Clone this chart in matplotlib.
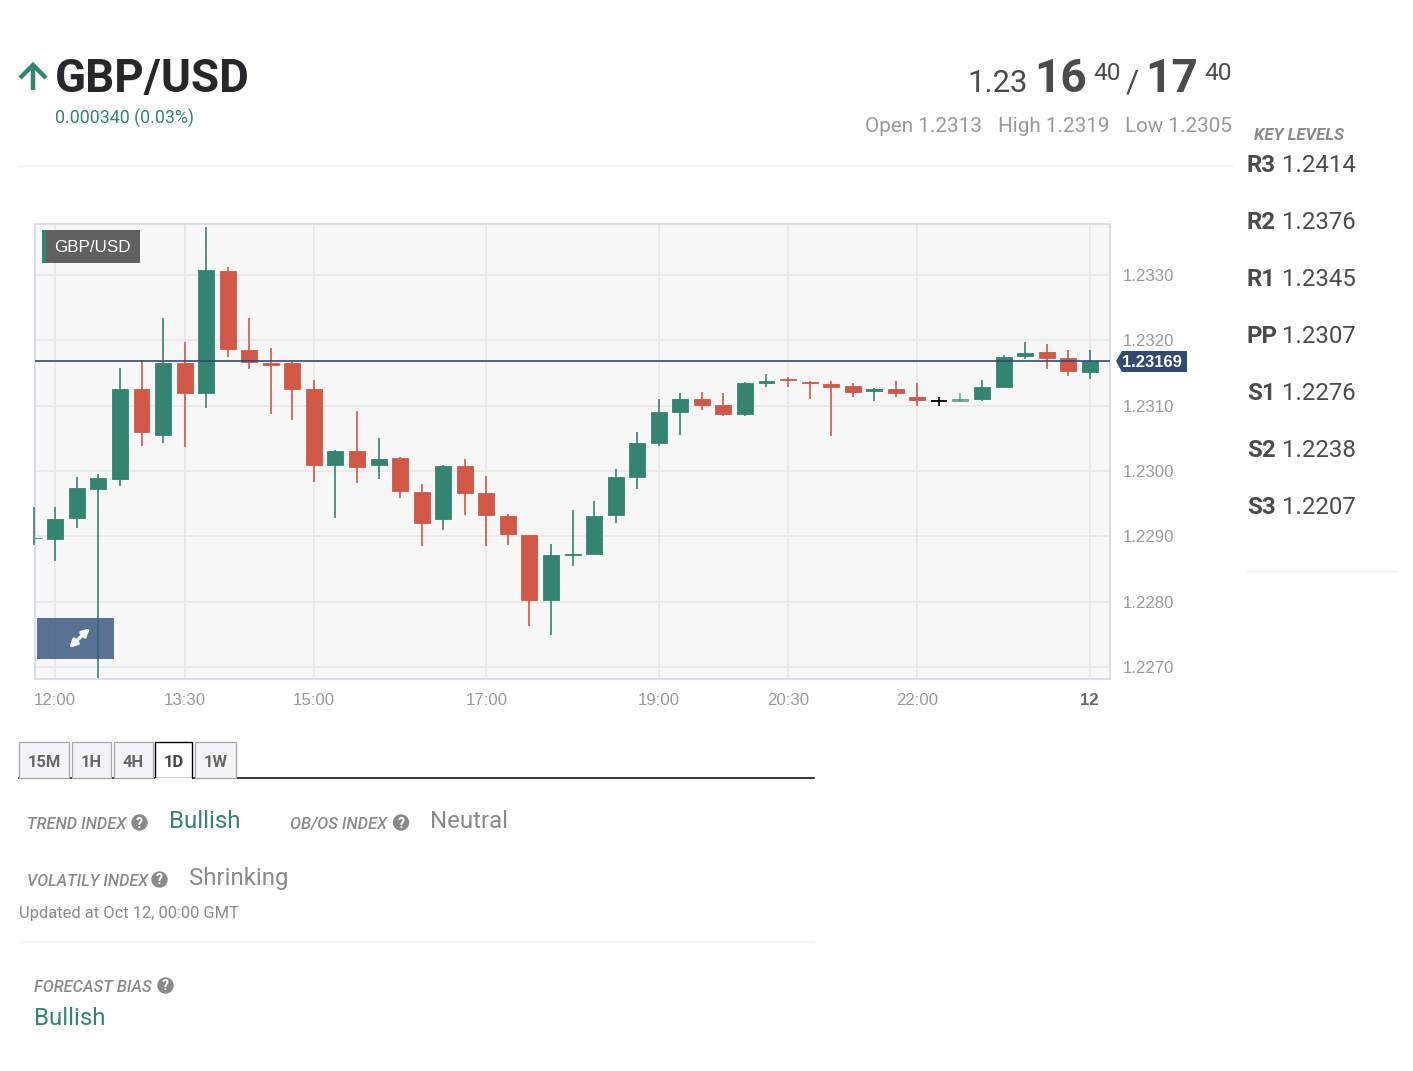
import numpy as np
import matplotlib
matplotlib.use('Agg')
import matplotlib.pyplot as plt
from matplotlib.patches import Rectangle, Circle, Polygon

# candles every 15 min, index 0 = 12:00
candle_idx = list(range(-1, 49))
opens = [1.22897, 1.22896, 1.22928, 1.22973, 1.22988, 1.23126, 1.23055, 1.23165, 1.23119, 1.23306,
         1.23185, 1.23166, 1.23165, 1.23126, 1.23009, 1.23031, 1.23009, 1.23020, 1.22968, 1.22927,
         1.23008, 1.22966, 1.22932, 1.22902, 1.22803, 1.22872, 1.22873, 1.22933, 1.22991, 1.23043,
         1.23091, 1.23111, 1.23101, 1.23087, 1.23135, 1.23141, 1.23137, 1.23134, 1.23130, 1.23123,
         1.23126, 1.23114, 1.23108, 1.23107, 1.23110, 1.23129, 1.23176, 1.23182, 1.23173, 1.23151]
closes = [1.22898, 1.22927, 1.22974, 1.22989, 1.23126, 1.23060, 1.23165, 1.23119, 1.23307, 1.23187,
          1.23167, 1.23162, 1.23126, 1.23009, 1.23031, 1.23007, 1.23018, 1.22970, 1.22921, 1.23008,
          1.22966, 1.22933, 1.22904, 1.22803, 1.22872, 1.22873, 1.22931, 1.22991, 1.23043, 1.23090,
          1.23111, 1.23101, 1.23087, 1.23135, 1.23138, 1.23139, 1.23135, 1.23129, 1.23121, 1.23126,
          1.23119, 1.23109, 1.23108, 1.23110, 1.23129, 1.23175, 1.23181, 1.23173, 1.23153, 1.23169]
highs = [1.22945, 1.22945, 1.22991, 1.22996, 1.23158, 1.23170, 1.23234, 1.23197, 1.23374, 1.23312,
         1.23234, 1.23188, 1.23168, 1.23139, 1.23032, 1.23092, 1.23051, 1.23022, 1.22980, 1.23009,
         1.23018, 1.22993, 1.22934, 1.22903, 1.22888, 1.22940, 1.22954, 1.23003, 1.23060, 1.23110,
         1.23120, 1.23121, 1.23119, 1.23137, 1.23149, 1.23144, 1.23138, 1.23138, 1.23135, 1.23127,
         1.23138, 1.23135, 1.23113, 1.23120, 1.23140, 1.23178, 1.23198, 1.23194, 1.23186, 1.23186]
lows = [1.22887, 1.22862, 1.22913, 1.22683, 1.22977, 1.23038, 1.23043, 1.23037, 1.23097, 1.23175,
        1.23156, 1.23087, 1.23078, 1.22984, 1.22929, 1.22982, 1.22988, 1.22959, 1.22885, 1.22910,
        1.22933, 1.22885, 1.22887, 1.22763, 1.22749, 1.22855, 1.22873, 1.22921, 1.22973, 1.23038,
        1.23055, 1.23093, 1.23084, 1.23085, 1.23129, 1.23128, 1.23110, 1.23053, 1.23114, 1.23108,
        1.23114, 1.23100, 1.23100, 1.23107, 1.23107, 1.23129, 1.23171, 1.23156, 1.23146, 1.23141]
faded_candles = [42]

time_ticks = [0, 6, 12, 20, 28, 34, 40, 48]
time_labels = ['12:00', '13:30', '15:00', '17:00', '19:00', '20:30', '22:00', '12']
price_ticks = [1.2330, 1.2320, 1.2310, 1.2300, 1.2290, 1.2280, 1.2270]
last_price = 1.23169

level_names = ['R3', 'R2', 'R1', 'PP', 'S1', 'S2', 'S3']
level_values = ['1.2414', '1.2376', '1.2345', '1.2307', '1.2276', '1.2238', '1.2207']
tab_names = ['15M', '1H', '4H', '1D', '1W']

GREEN = '#338471'
RED = '#d15846'
W, H = 1413, 1071

plt.rcParams['font.family'] = 'Roboto'
fig = plt.figure(figsize=(W / 100, H / 100), dpi=100, facecolor='white')

# page layer in pixel coordinates
page = fig.add_axes([0, 0, 1, 1], zorder=0)
page.set_xlim(0, W)
page.set_ylim(H, 0)
page.axis('off')


def txt(x, y, s, px, color='#4a4a4f', ax=page, **kw):
    kw.setdefault('va', 'baseline')
    return ax.text(x, y, s, fontsize=px * 0.72, color=color, **kw)


def help_icon(x, y, r=8.2):
    page.add_patch(Circle((x, y), r, color='#8a8a8e', lw=0))
    txt(x, y + 5, '?', 14, 'white', ha='center', fontweight='bold')


# header
page.plot([33, 33], [90, 67], color=GREEN, lw=3.2, solid_capstyle='butt')
page.plot([20, 33, 46], [78, 65, 78], color=GREEN, lw=3.2, solid_joinstyle='miter', solid_capstyle='butt')
txt(55, 92, 'GBP/USD', 45.6, '#26262b', fontweight='bold')
txt(55, 124, '0.000340 (0.03%)', 17.8, GREEN)

txt(1028, 92, '1.23', 31, '#4a4a4f', ha='right')
txt(1087, 92, '16', 46, '#4a4a4f', ha='right', fontweight='bold')
txt(1121, 80, '40', 24.5, '#4a4a4f', ha='right')
txt(1139, 92, '/', 32, '#4a4a4f', ha='right')
txt(1198, 92, '17', 46, '#4a4a4f', ha='right', fontweight='bold')
txt(1232, 80, '40', 24.5, '#4a4a4f', ha='right')
txt(982, 132.5, 'Open 1.2313', 20.7, '#98989c', ha='right')
txt(1109, 132.5, 'High 1.2319', 20.7, '#98989c', ha='right')
txt(1232, 132.5, 'Low 1.2305', 20.7, '#98989c', ha='right')
page.plot([18, 1232], [166, 166], color='#eeeeee', lw=1)

# key levels
txt(1254, 140, 'KEY LEVELS', 16.8, '#8a8a8e', fontweight='bold', style='italic')
for k, (name, value) in enumerate(zip(level_names, level_values)):
    y = 172 + k * 57.05
    txt(1247, y, name, 24, '#4a4a4f', fontweight='bold')
    txt(1282, y, value, 24, '#4a4a4f')
page.plot([1247, 1397], [571, 571], color='#eeeeee', lw=1)

# tabs
page.plot([19, 814], [778, 778], color='black', lw=1.1)
tab_left = [19, 72, 114, 155, 195]
tab_right = [69, 111, 153, 192, 236]
for name, x0, x1 in zip(tab_names, tab_left, tab_right):
    active = name == '1D'
    if active:
        page.add_patch(Rectangle((x0, 742), x1 - x0, 36, fc='white', ec='black', lw=1, zorder=3))
        page.plot([x0 + 1, x1 - 1], [778.5, 778.5], color='white', lw=1.6, zorder=4)
    else:
        page.add_patch(Rectangle((x0, 742), x1 - x0, 36, fc='#f3f3f8', ec='#a8a8ac', lw=0.9, zorder=2))
    txt((x0 + x1) / 2, 767, name, 16.5, '#444448' if active else '#66666a', ha='center',
        fontweight='bold', zorder=5)

# index rows
txt(27, 829, 'TREND INDEX', 16.4, '#8a8a8e', style='italic', fontweight='medium')
help_icon(139.5, 822.5)
txt(169, 828.3, 'Bullish', 24, GREEN)
txt(290, 829, 'OB/OS INDEX', 16.4, '#8a8a8e', style='italic', fontweight='medium')
help_icon(401, 822.5)
txt(430, 828.3, 'Neutral', 24, '#8a8a8e')
txt(27, 886, 'VOLATILY INDEX', 16.2, '#8a8a8e', style='italic', fontweight='medium')
help_icon(159.5, 879.5)
txt(189, 885.3, 'Shrinking', 24, '#8a8a8e')
txt(19, 918, 'Updated at Oct 12, 00:00 GMT', 16.5, '#8a8a8e')
page.plot([19, 814], [942, 942], color='#eeeeee', lw=1)
txt(34, 992, 'FORECAST BIAS', 16.4, '#8a8a8e', style='italic', fontweight='medium')
help_icon(165.5, 985.5)
txt(34, 1025.3, 'Bullish', 24, GREEN)

# chart
ax = fig.add_axes([34.8 / W, (H - 679) / H, 1075 / W, 455 / H], zorder=1, facecolor='#f7f7f7')
ax.set_xlim(-0.951, 48.93)
ax.set_ylim(1.22682, 1.23378)
ax.set_xticks(time_ticks)
ax.set_xticklabels(time_labels, fontfamily='Liberation Sans', fontsize=16.8 * 0.72, color='#999999')
ax.get_xticklabels()[-1].set_fontweight('bold')
ax.get_xticklabels()[-1].set_color('#666666')
ax.set_yticks(price_ticks)
ax.set_yticklabels([f'{p:.4f}' for p in price_ticks], fontfamily='Liberation Sans',
                   fontsize=16.8 * 0.72, color='#999999')
ax.yaxis.tick_right()
ax.tick_params(axis='x', length=0, pad=10)
ax.tick_params(axis='y', length=0, pad=9)
ax.grid(True, color='#e8e8e8', lw=1.3)
ax.set_axisbelow(True)
for spine in ax.spines.values():
    spine.set_color('#d6dbe9')
    spine.set_linewidth(1.3)
    spine.set_zorder(2)

for i, o, h, l, c in zip(candle_idx, opens, highs, lows, closes):
    col = 'black' if o == c else (GREEN if c > o else RED)
    alpha = 0.65 if i in faded_candles else 1
    # first candle sits on the left border, its wick stays visible there
    ax.vlines(i, l, h, color=col, lw=1.2, alpha=alpha, zorder=3, clip_on=i >= 0)
    if o == c:
        ax.hlines(o, i - 0.38, i + 0.38, color=col, lw=1.3, zorder=3)
    else:
        ax.bar(i, abs(c - o), bottom=min(o, c), width=0.74, color=col, edgecolor=col, lw=0.6,
               alpha=alpha, zorder=3)

ax.axhline(last_price, color='#2f4b72', lw=1.2, zorder=4)

# overlays on top of the chart, again in pixel coordinates
top = fig.add_axes([0, 0, 1, 1], zorder=2)
top.set_xlim(0, W)
top.set_ylim(H, 0)
top.axis('off')
top.patch.set_alpha(0)
top.add_patch(Rectangle((42, 230), 98, 33, fc='#606060', lw=0))
top.add_patch(Rectangle((42, 230), 4, 33, fc=GREEN, lw=0))
txt(54.5, 252, 'GBP/USD', 17, 'white', ax=top, fontfamily='Liberation Sans')
top.add_patch(Rectangle((37, 618), 77, 41, fc='#3d5a80', alpha=0.85, lw=0))
top.annotate('', xy=(90, 628), xytext=(69, 648),
             arrowprops=dict(arrowstyle='<|-|>', color='white', lw=2.4, mutation_scale=11, shrinkA=0, shrinkB=0))
top.add_patch(Polygon([(1116, 361), (1122, 351), (1187, 351), (1187, 372), (1122, 372)],
                      fc='#304a70', lw=0))
txt(1122, 367, f'{last_price:.5f}', 16.5, 'white', ax=top, fontfamily='Liberation Sans', fontweight='bold')

fig.savefig('out.png', dpi=100, facecolor='white')
